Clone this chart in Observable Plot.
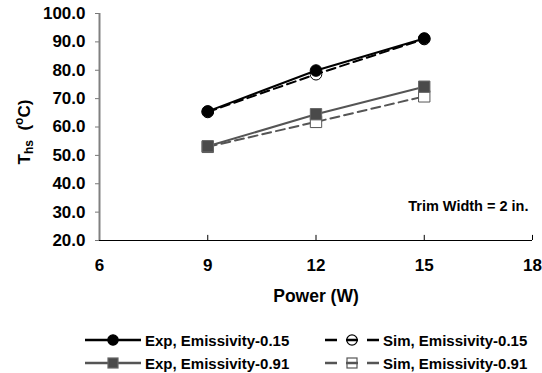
<!DOCTYPE html>
<html>
<head>
<meta charset="utf-8">
<script src="https://cdn.jsdelivr.net/npm/d3@7"></script>
<script src="https://cdn.jsdelivr.net/npm/@observablehq/plot@0.6"></script>
<style>
  body { margin: 0; background: #fff; font-family: "Liberation Sans", Arial, sans-serif; }
  #chart { width: 542px; }
  #chart g[aria-label="y-axis tick label"] text,
  #chart g[aria-label="x-axis tick label"] text { font-size: 17px; font-weight: bold; }
  .legend { position: relative; height: 63px; font-weight: bold; font-size: 15px; }
  .item { position: absolute; display: flex; align-items: center; height: 20px; }
  .item svg { margin-right: 4px; }
</style>
</head>
<body>
<div id="chart"></div>
<script>
// ---- data ----
const powers = [9, 12, 15];
const expE015 = [65.5, 79.9, 91.2];
const simE015 = [65.3, 78.6, 91.0];
const expE091 = [53.2, 64.5, 74.2];
const simE091 = [53.0, 61.8, 70.8];
const xTicks = [6, 9, 12, 15, 18];
const yTicks = [20, 30, 40, 50, 60, 70, 80, 90, 100];
const seriesNames = ["Exp, Emissivity-0.15", "Sim, Emissivity-0.15", "Exp, Emissivity-0.91", "Sim, Emissivity-0.91"];
const annotation = "Trim Width = 2 in.";
const xLabel = "Power (W)";

const seriesStyle = {
  "Exp, Emissivity-0.15": {stroke: "#000", dash: null, symbol: "circle", fill: "#000", r: 5.8},
  "Sim, Emissivity-0.15": {stroke: "#000", dash: "9,5", symbol: "circle", fill: "#fff", r: 5.8},
  "Exp, Emissivity-0.91": {stroke: "#555", dash: null, symbol: "square", fill: "#4a4a4a", r: 6.4},
  "Sim, Emissivity-0.91": {stroke: "#555", dash: "9,5", symbol: "square", fill: "#fff", r: 6.4}
};
const valuesBySeries = [expE015, simE015, expE091, simE091];
const rows = seriesNames.flatMap((s, i) => powers.map((p, j) => ({series: s, power: p, temp: valuesBySeries[i][j]})));
const drawOrder = [seriesNames[3], seriesNames[2], seriesNames[1], seriesNames[0]];

const marks = [];
for (const s of drawOrder) {
  const st = seriesStyle[s];
  const d = rows.filter(r => r.series === s);
  marks.push(Plot.line(d, {x: "power", y: "temp", stroke: st.stroke, strokeWidth: 2, strokeDasharray: st.dash}));
  marks.push(Plot.dot(d, {x: "power", y: "temp", symbol: st.symbol, r: st.r, fill: st.fill, stroke: st.symbol === "square" && st.fill !== "#fff" ? "#666" : st.stroke, strokeWidth: 1}));
}

const chart = Plot.plot({
  width: 542,
  height: 310,
  marginLeft: 99,
  marginRight: 10,
  marginTop: 13,
  marginBottom: 70,
  style: {fontFamily: "'Liberation Sans', Arial, sans-serif", fontSize: "16px", fontWeight: "bold", background: "#fff", color: "#000"},
  x: {domain: [6, 18]},
  y: {domain: [20, 100]},
  marks: [
    Plot.axisY({ticks: yTicks, tickFormat: d3.format(".1f"), tickSize: 4, tickPadding: 10, label: null, stroke: "#777", fill: "#000"}),
    Plot.axisX({ticks: xTicks, tickSize: 0, tickPadding: 18, label: null, fill: "#000"}),
    Plot.ruleX(xTicks.slice(1), {y1: 20, y2: 21.8, stroke: "#000"}),
    Plot.ruleY([20], {stroke: "#000", strokeWidth: 1}),
    Plot.ruleX([6], {stroke: "#808080", strokeWidth: 2}),
    Plot.text([xLabel], {frameAnchor: "bottom", dy: 61, fontSize: 17.5, fontWeight: "bold", fill: "#000"}),
    Plot.text([annotation], {frameAnchor: "bottom-right", dx: -4, dy: -30, textAnchor: "end", fontSize: 14.5, fontWeight: "bold", fill: "#000"}),
    ...marks
  ]
});

// y-axis label with subscript / superscript
const svg = d3.select(chart);
const yl = svg.append("text")
  .attr("transform", "translate(30,132) rotate(-90)")
  .attr("text-anchor", "middle")
  .attr("font-size", 17)
  .attr("font-weight", "bold")
  .attr("fill", "#000");
yl.append("tspan").text("T");
yl.append("tspan").attr("font-size", 12).attr("dy", 3).text("hs");
yl.append("tspan").attr("dy", -3).text("\u00a0 (");
yl.append("tspan").attr("font-size", 12).attr("dy", -7).text("o");
yl.append("tspan").attr("dy", 7).text("C)");

document.getElementById("chart").appendChild(chart);

// legend
const legend = document.createElement("div");
legend.className = "legend";
const positions = [[85, 20], [325, 20], [85, 43], [325, 43]];
seriesNames.forEach((s, i) => {
  const st = seriesStyle[s];
  const item = document.createElement("div");
  item.className = "item";
  item.style.left = positions[i][0] + "px";
  item.style.top = positions[i][1] + "px";
  const w = i % 2 === 0 ? 56 : 54;
  const sw = d3.create("svg").attr("width", w).attr("height", 20);
  const cx = w / 2;
  const open = st.fill === "#fff";
  sw.append("line").attr("x1", 0).attr("x2", w).attr("y1", 10).attr("y2", 10)
    .attr("stroke", st.stroke).attr("stroke-width", 2.5).attr("stroke-dasharray", st.dash ? "12,9" : null);
  if (st.symbol === "circle") {
    sw.append("circle").attr("cx", cx).attr("cy", 10).attr("r", 5.2).attr("fill", open ? "none" : st.fill).attr("stroke", st.stroke).attr("stroke-width", 1.2);
  } else {
    sw.append("rect").attr("x", cx - 5).attr("y", 5).attr("width", 10).attr("height", 10).attr("fill", open ? "none" : st.fill).attr("stroke", open ? st.stroke : "#666").attr("stroke-width", 1.2);
  }
  if (open) sw.append("line").attr("x1", cx - 5).attr("x2", cx + 5).attr("y1", 10).attr("y2", 10).attr("stroke", st.stroke).attr("stroke-width", 1.5);
  item.appendChild(sw.node());
  const t = document.createElement("span");
  t.textContent = s;
  item.appendChild(t);
  legend.appendChild(item);
});
document.body.appendChild(legend);
</script>
</body>
</html>
